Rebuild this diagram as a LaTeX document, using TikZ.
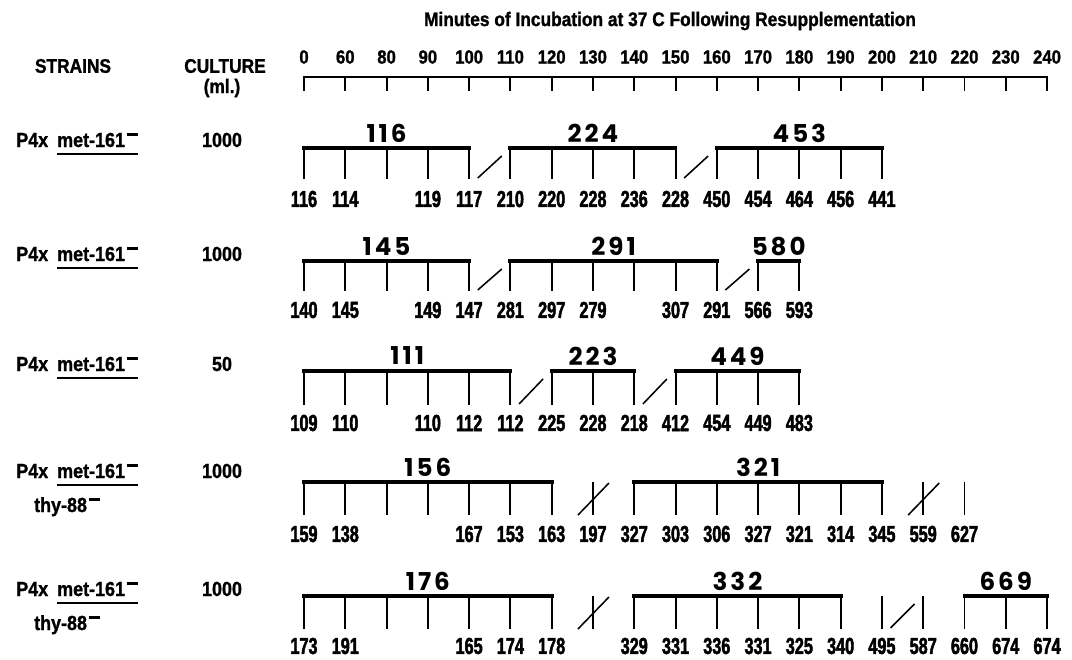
\documentclass[tikz,border=0pt]{standalone}
\usepackage{fontspec}
\setmainfont{Liberation Sans}
\newfontfamily\numfont{Liberation Sans Bold}[FakeStretch=0.7, FakeBold=2]
\newfontfamily\headfont{Liberation Sans Bold}[FakeStretch=0.88, FakeBold=1.2]
\newfontfamily\bigfont{Poppins Bold}[LetterSpace=12]
\usetikzlibrary{positioning}
\newcommand{\tpos}[1]{(304+41.28*(#1))}
\newcommand{\supminus}{\hspace{.08em}\rule[.56em]{.55em}{.11em}}
\tikzset{
  axisln/.style={line width=1.4pt},
  topbar/.style={line width=2.8pt, line cap=rect},
  stem/.style={line width=1.4pt},
  cut/.style={line width=1.1pt},
  num/.style={inner sep=0pt, font=\fontsize{16.5}{16.5}\numfont},
  big/.style={inner sep=0pt, font=\fontsize{17.5}{17.5}\bigfont},
  axlab/.style={inner sep=0pt, font=\fontsize{13.5}{13.5}\headfont},
  head/.style={inner sep=0pt, font=\fontsize{14}{14}\headfont},
  strain/.style={inner sep=0pt, font=\fontsize{14.5}{14.5}\headfont},
}
% one bracket: top, bottom, first and last time index, label, name
\newcommand{\grp}[6]{%
  \draw[topbar] ({\tpos{#3}},#1) -- ({\tpos{#4}},#1);
  \foreach \i in {#3,...,#4}
    \draw[stem] ({\tpos{\i}},#1) -- ({\tpos{\i}},#2);
  \node[big] (#6) at ({(\tpos{#3}+\tpos{#4})/2},#1-15) {#5};}
% break mark between two brackets
\newcommand{\cutmark}[3]{%
  \draw[cut] ({\tpos{#1}-12},#3-1) -- ({\tpos{#1}+12},#2+8);}
% single stem struck through
\newcommand{\crossed}[3]{%
  \draw[stem] ({\tpos{#1}},#2) -- ({\tpos{#1}},#3);
  \draw[cut] ({\tpos{#1}-15},#3) -- ({\tpos{#1}+16},#2+1);}

\begin{document}
\begin{tikzpicture}[x=0.025cm, y=-0.025cm]
  \useasboundingbox (0,0) rectangle (1072,659);
  %% headings
  \node[head] (title) at (670,21) {Minutes of Incubation at 37 C Following Resupplementation};
  \node[head] (strains) at (73,66) {STRAINS};
  \node[head] (culture) at (225,66) {CULTURE};
  \node[head] (ml) at (222,88) {(ml.)};
  %% time axis
  \draw[axisln] ({\tpos{0}},91) -- ({\tpos{0}},77) -- ({\tpos{18}},77) -- ({\tpos{18}},91);
  \foreach \i in {1,...,17}
    \draw[axisln] ({\tpos{\i}},77) -- ({\tpos{\i}},91);
  \foreach \i/\l in {0/0,1/60,2/80,3/90,4/100,5/110,6/120,7/130,8/140,9/150,
                     10/160,11/170,12/180,13/190,14/200,15/210,16/220,17/230,18/240}
    \node[axlab] (a\i) at ({\tpos{\i}},57) {\l};

  %% strains and cultures
  \foreach \r/\y/\c in {1/147/1000,2/261/1000,3/371/50,4/478/1000,5/596/1000} {
    \node[strain, anchor=base west] (p\r) at (16,\y) {P4x};
    \node[strain, base right=6pt of p\r] (m\r) {met-161\supminus};
    \draw[stem] ([yshift=-4.5pt]m\r.south west) -- ([yshift=-4.5pt]m\r.south east);
    \node[strain, anchor=base] (c\r) at (222,\y) {\c};
  }
  \node[strain, anchor=base] (t4) at (67,512) {thy-88\supminus};
  \node[strain, anchor=base] (t5) at (67,630) {thy-88\supminus};

  %% row 1
  \grp{148}{179}{0}{4}{116}{g11}
  \cutmark{4.5}{148}{179}
  \grp{148}{179}{5}{9}{224}{g12}
  \cutmark{9.5}{148}{179}
  \grp{148}{179}{10}{14}{453}{g13}
  \foreach \i/\n in {0/116,1/114,3/119,4/117,5/210,6/220,7/228,8/236,9/228,
                     10/450,11/454,12/464,13/456,14/441}
    \node[num] (n1-\i) at ({\tpos{\i}},199) {\n};

  %% row 2
  \grp{261}{291}{0}{4}{145}{g21}
  \cutmark{4.5}{261}{291}
  \grp{261}{291}{5}{10}{291}{g22}
  \cutmark{10.5}{261}{291}
  \grp{261}{291}{11}{12}{580}{g23}
  \foreach \i/\n in {0/140,1/145,3/149,4/147,5/281,6/297,7/279,9/307,10/291,
                     11/566,12/593}
    \node[num] (n2-\i) at ({\tpos{\i}},310) {\n};

  %% row 3
  \grp{371}{405}{0}{5}{111}{g31}
  \cutmark{5.5}{371}{405}
  \grp{371}{405}{6}{8}{223}{g32}
  \cutmark{8.5}{371}{405}
  \grp{371}{405}{9}{12}{449}{g33}
  \foreach \i/\n in {0/109,1/110,3/110,4/112,5/112,6/225,7/228,8/218,
                     9/412,10/454,11/449,12/483}
    \node[num] (n3-\i) at ({\tpos{\i}},423) {\n};

  %% row 4
  \grp{482}{515}{0}{6}{156}{g41}
  \crossed{7}{482}{515}
  \grp{482}{515}{8}{14}{321}{g42}
  \crossed{15}{482}{515}
  \draw[stem] ({\tpos{16}},482) -- ({\tpos{16}},515);
  \foreach \i/\n in {0/159,1/138,4/167,5/153,6/163,7/197,8/327,9/303,10/306,
                     11/327,12/321,13/314,14/345,15/559,16/627}
    \node[num] (n4-\i) at ({\tpos{\i}},534) {\n};

  %% row 5
  \grp{596}{629}{0}{6}{176}{g51}
  \crossed{7}{596}{629}
  \grp{596}{629}{8}{13}{332}{g52}
  \draw[stem] ({\tpos{14}},596) -- ({\tpos{14}},629);
  \cutmark{14.5}{596}{629}
  \draw[stem] ({\tpos{15}},596) -- ({\tpos{15}},629);
  \grp{596}{629}{16}{18}{669}{g53}
  \foreach \i/\n in {0/173,1/191,4/165,5/174,6/178,8/329,9/331,10/336,11/331,
                     12/325,13/340,14/495,15/587,16/660,17/674,18/674}
    \node[num] (n5-\i) at ({\tpos{\i}},646) {\n};
\end{tikzpicture}
\end{document}
